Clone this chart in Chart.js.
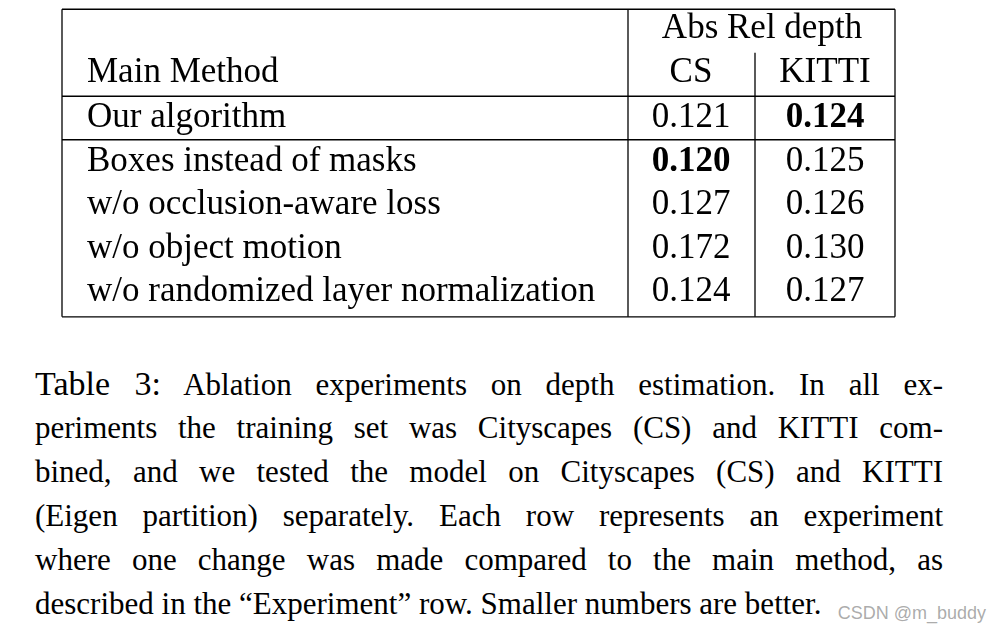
<!DOCTYPE html>
<html><head><meta charset="utf-8">
<script src="https://cdn.jsdelivr.net/npm/chart.js@4/dist/chart.umd.min.js"></script>
<style>
html,body{margin:0;padding:0;background:#fff;width:1000px;height:638px;overflow:hidden;position:relative}
#wrap{position:absolute;left:0;top:0;width:1000px;height:330px}
#cap{position:absolute;left:35px;top:362px;width:908px;font-family:"Liberation Serif","Times New Roman",serif;font-size:31px;line-height:44px;color:#000}
#cap div{text-align:justify;text-align-last:justify;white-space:nowrap;height:44px}
#cap .t{font-size:34px}
#wm{position:absolute;right:14px;top:603px;font-family:"Liberation Sans",sans-serif;font-size:18px;color:rgba(150,150,150,0.8)}
</style></head><body>
<div id="wrap"><canvas id="c" width="1000" height="330"></canvas></div>
<div id="cap">
<div><span class="t">Table 3:</span> Ablation experiments on depth estimation. In all ex-</div>
<div>periments the training set was Cityscapes (CS) and KITTI com-</div>
<div>bined, and we tested the model on Cityscapes (CS) and KITTI</div>
<div>(Eigen partition) separately. Each row represents an experiment</div>
<div>where one change was made compared to the main method, as</div>
<div style="text-align-last:left">described in the “Experiment” row. Smaller numbers are better.</div>
</div>
<div id="wm">CSDN @m_buddy</div>
<script>
const groupHeader = "Abs Rel depth";
const columns = ["Main Method", "CS", "KITTI"];
const methods = ["Our algorithm", "Boxes instead of masks", "w/o occlusion-aware loss", "w/o object motion", "w/o randomized layer normalization"];
const csValues = [0.121, 0.120, 0.127, 0.172, 0.124];
const kittiValues = [0.124, 0.125, 0.126, 0.130, 0.127];

const FONT = '35px "Liberation Serif","Times New Roman",serif';
const BOLD = 'bold 35px "Liberation Serif","Times New Roman",serif';
const X = {left:62, div1:628, div2:755, right:895, text:87, cs:691, kitti:825, group:762};

function best(arr){return Math.min(...arr);}

const tablePlugin = {
  id:'table',
  afterDraw(chart){
    const ctx = chart.ctx, xs = chart.scales.x, ys = chart.scales.y;
    const px = v=>xs.getPixelForValue(v), py = v=>ys.getPixelForValue(v);
    ctx.save();
    ctx.strokeStyle='#000'; ctx.lineWidth=1.3;
    const hl=(y)=>{ctx.beginPath();ctx.moveTo(px(X.left),py(y));ctx.lineTo(px(X.right),py(y));ctx.stroke();};
    const vl=(x,y0,y1)=>{ctx.beginPath();ctx.moveTo(px(x),py(y0));ctx.lineTo(px(x),py(y1));ctx.stroke();};
    const last = methods.length - 0.5;
    hl(-2.5); hl(-0.5); hl(0.5); hl(last+0.07);
    vl(X.left,-2.5,last+0.07); vl(X.right,-2.5,last+0.07);
    vl(X.div1,-2.5,last+0.07); vl(X.div2,-1.5,last+0.07);
    ctx.fillStyle='#000'; ctx.textBaseline='middle';
    ctx.font=FONT;
    ctx.textAlign='center'; ctx.fillText(groupHeader, px(X.group), py(-2.05));
    ctx.textAlign='left'; ctx.fillText(columns[0], px(X.text), py(-1.05));
    ctx.textAlign='center'; ctx.fillText(columns[1], px(X.cs), py(-1.05));
    ctx.fillText(columns[2], px(X.kitti), py(-1.05));
    const bc=best(csValues), bk=best(kittiValues);
    methods.forEach((m,i)=>{
      ctx.font=FONT; ctx.textAlign='left'; ctx.fillText(m, px(X.text), py(i));
      ctx.textAlign='center';
      ctx.font = csValues[i]===bc?BOLD:FONT; ctx.fillText(csValues[i].toFixed(3), px(X.cs), py(i));
      ctx.font = kittiValues[i]===bk?BOLD:FONT; ctx.fillText(kittiValues[i].toFixed(3), px(X.kitti), py(i));
    });
    ctx.restore();
  }
};

new Chart(document.getElementById('c'), {
  type:'scatter',
  data:{datasets:[{data:[],pointRadius:0}]},
  options:{
    responsive:false, animation:false,
    layout:{padding:0},
    plugins:{legend:{display:false},tooltip:{enabled:false}},
    scales:{
      x:{type:'linear',min:0,max:1000,display:false},
      y:{type:'linear',min:-2.713,max:4.874,reverse:true,display:false}
    }
  },
  plugins:[tablePlugin]
});
</script>
</body></html>
